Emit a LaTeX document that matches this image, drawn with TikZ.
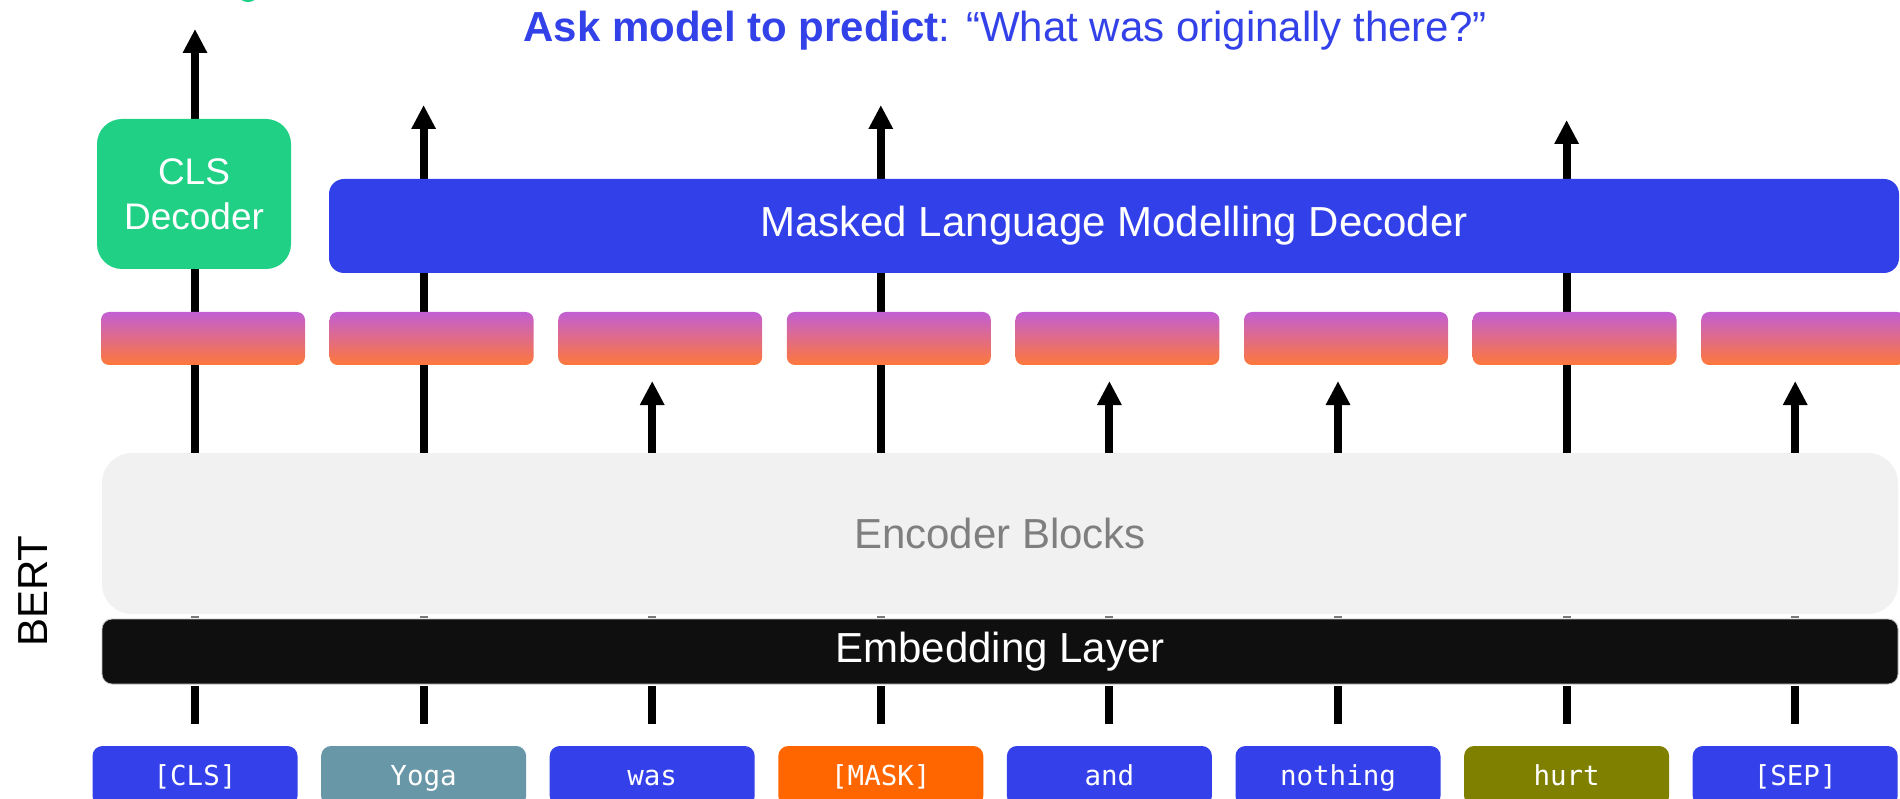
\documentclass[tikz,border=0pt]{standalone}
\usepackage{fontspec}
\setmainfont{Liberation Sans}
\newfontfamily\tokfont{DejaVu Sans Mono}
\usetikzlibrary{arrows.meta}

\definecolor{titleblue}{HTML}{3341E8}
\definecolor{mlmblue}{HTML}{3240EA}
\definecolor{tokblue}{HTML}{3440EA}
\definecolor{clsgreen}{HTML}{20D085}
\definecolor{encgray}{HTML}{F1F1F1}
\definecolor{enctext}{HTML}{7F7F7F}
\definecolor{embblack}{HTML}{0F0F0F}
\definecolor{embedge}{HTML}{BFBFBF}
\definecolor{yogateal}{HTML}{6897A8}
\definecolor{maskorange}{HTML}{FF6600}
\definecolor{hurtolive}{HTML}{808000}
\definecolor{gradtop}{HTML}{C25FD3}
\definecolor{gradmid}{HTML}{DA6AA8}
\definecolor{gradbot}{HTML}{FE783A}
\definecolor{tickgray}{HTML}{7A7A7A}

\tikzset{
  arr/.style={line width=8pt, -{Triangle[length=24pt,width=23pt]}},
  stub/.style={line width=8pt},
  bigfont/.style={font=\fontsize{42}{50}\selectfont},
  tokbox/.style={rounded corners=10pt, minimum width=205pt, minimum height=60pt,
    inner sep=0pt, text height=20pt, text depth=2pt, text=white,
    font=\tokfont\fontsize{27.5}{32}\selectfont},
  hidbox/.style={rounded corners=8pt, minimum width=204pt, minimum height=53pt,
    inner sep=0pt, top color=gradtop, middle color=gradmid, bottom color=gradbot},
}

\begin{document}
\begin{tikzpicture}[x=1pt,y=-1pt]
\useasboundingbox (0,0) rectangle (1900,799);
\clip (0,0) rectangle (1900,799);

% title
\node[bigfont, text=titleblue, anchor=base, inner sep=0pt] (title) at (1005,42)
  {\textbf{Ask model to predict}: “What was originally there?”};

% green mark at the top edge
\fill[clsgreen] (248,-3) ellipse (8 and 5);

% side label
\node[bigfont, rotate=90, inner sep=0pt] (bert) at (33,591) {BERT};

% input tokens
\foreach \i/\w/\c in {1/{[CLS]}/tokblue, 2/{Yoga}/yogateal, 3/{was}/tokblue,
    4/{[MASK]}/maskorange, 5/{and}/tokblue, 6/{nothing}/tokblue,
    7/{hurt}/hurtolive, 8/{[SEP]}/tokblue}{
  \node[tokbox, fill=\c] (t\i) at ({195+228.6*(\i-1)},776) {\w};
}

% output tip points of the arrows
\foreach \i/\ty in {1/29, 2/105, 3/381, 4/105, 5/381, 6/381, 7/120, 8/381}{
  \coordinate (tip\i) at ({195+228.6*(\i-1)},\ty);
}

% encoder stack and embedding layer
\node[fill=encgray, rounded corners=30pt, minimum width=1796pt, minimum height=161pt,
  inner sep=0pt, bigfont, text=enctext] (enc) at (1000,533.5) {Encoder Blocks};
\node[fill=embblack, draw=embedge, line width=0.8pt, rounded corners=10pt,
  minimum width=1796pt, minimum height=65pt, inner sep=0pt, bigfont, text=white]
  (emb) at (1000,651.5) {Embedding Layer};

% token to embedding stubs and small marks in the gap
\foreach \i in {1,...,8}{
  \draw[stub] ([yshift=-2pt]emb.south -| t\i) -- ([yshift=22pt]t\i.north);
  \fill[tickgray] ([xshift=-4pt,yshift=3pt]emb.north -| t\i) rectangle
                  ([xshift=4pt,yshift=0.5pt]emb.north -| t\i);
}

% upward arrows from the encoder
\foreach \i in {1,...,8}{
  \draw[arr] (enc.north -| t\i) -- (tip\i);
}

% hidden state bars
\foreach \i in {1,...,8}{
  \node[hidbox] (h\i) at ({203+228.6*(\i-1)},338.5) {};
}

% decoders
\node[fill=clsgreen, rounded corners=25pt, minimum width=194pt, minimum height=150pt,
  inner sep=0pt, text=white, align=center, font=\fontsize{37}{45}\selectfont]
  (cls) at (194,194) {CLS\\Decoder};
\node[fill=mlmblue, rounded corners=15pt, minimum width=1570pt, minimum height=94pt,
  inner sep=0pt, text=white, bigfont] (mlm) at (1114,226)
  {Masked Language Modelling Decoder};
\end{tikzpicture}
\end{document}
